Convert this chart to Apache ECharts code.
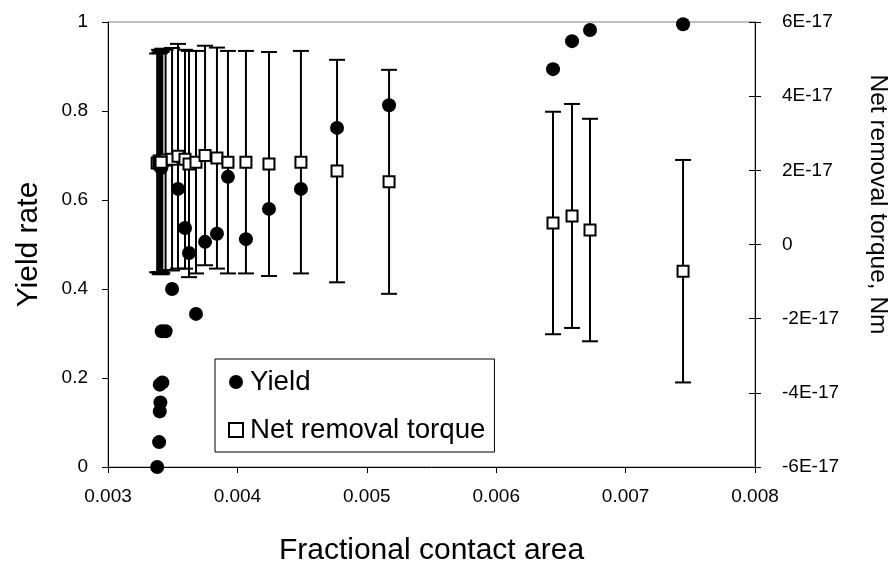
<!DOCTYPE html>
<html>
<head>
<meta charset="utf-8">
<script src="https://cdn.jsdelivr.net/npm/echarts@6/dist/echarts.min.js"></script>
<style>
  html, body { margin: 0; padding: 0; background: #fff; }
  #chart { width: 889px; height: 577px; }
</style>
</head>
<body>
<div id="chart"></div>
<script>
// Fractional contact area of each sample
const contactArea = [
  0.003380, 0.003395, 0.003400, 0.003405, 0.003400, 0.003420, 0.003415, 0.003445,
  0.003495, 0.003410, 0.003541, 0.003595, 0.003626, 0.003680, 0.003750, 0.003842,
  0.003927, 0.004066, 0.004244, 0.004491, 0.004770, 0.005172, 0.006439, 0.006586,
  0.006725, 0.007444
];
// Yield rate (left axis)
const yieldRate = [
  0.000, 0.056, 0.125, 0.145, 0.185, 0.190, 0.305, 0.305,
  0.400, 0.672, 0.625, 0.537, 0.481, 0.344, 0.506, 0.524,
  0.652, 0.512, 0.580, 0.625, 0.762, 0.813, 0.894, 0.957,
  0.982, 0.995
];
// Net removal torque, in units of 1E-17 Nm (right axis)
const netTorque = [
  2.20, 2.25, 2.18, 2.24, 2.22, 2.26, 2.20, 2.28,
  2.30, 2.22, 2.38, 2.30, 2.17, 2.22, 2.40, 2.33,
  2.22, 2.22, 2.17, 2.22, 1.98, 1.69, 0.58, 0.77,
  0.39, -0.72
];
// Standard deviation of the torque, same units
const torqueErr = [
  2.95, 3.00, 2.98, 3.00, 2.96, 3.02, 3.00, 2.97,
  3.00, 2.98, 3.03, 2.95, 3.05, 3.00, 2.96, 2.98,
  3.00, 3.00, 3.02, 3.00, 3.00, 3.02, 3.00, 3.02,
  3.00, 3.00
];
// Axis tick settings
const xTicks = { min: 0.003, max: 0.008, step: 0.001 };
const yieldTicks = { min: 0, max: 1, step: 0.2 };
const torqueTicks = { min: -6, max: 6, step: 2 };

const FONT = "'Liberation Sans', Arial, sans-serif";

const yieldData = contactArea.map((x, i) => [x, yieldRate[i]]);
const torqueData = contactArea.map((x, i) => [x, netTorque[i]]);
const errData = contactArea.map((x, i) => [x, netTorque[i] - torqueErr[i], netTorque[i] + torqueErr[i]]);

const torqueLabel = v => (v === 0 ? '0' : v + 'E-17');

const chart = echarts.init(document.getElementById('chart'), null, { renderer: 'canvas' });

chart.setOption({
  animation: false,
  backgroundColor: '#fff',
  textStyle: { fontFamily: FONT, color: '#000' },
  grid: {
    left: 108, right: 134, top: 22, bottom: 110,
    containLabel: false,
    outerBoundsMode: 'none',
    show: true, borderColor: '#808080', borderWidth: 1
  },
  legend: {
    orient: 'vertical',
    left: 215, top: 359,
    padding: [9, 9, 8, 13],
    itemGap: 20,
    itemWidth: 14, itemHeight: 14,
    borderColor: '#000', borderWidth: 1,
    backgroundColor: '#fff',
    textStyle: { fontFamily: FONT, fontSize: 27.7, color: '#000', padding: [0, 0, 0, 2] },
    data: [
      { name: 'Yield', icon: 'circle' },
      { name: 'Net removal torque', icon: 'rect' }
    ]
  },
  xAxis: {
    type: 'value',
    min: xTicks.min, max: xTicks.max, interval: xTicks.step,
    name: 'Fractional contact area',
    nameLocation: 'middle',
    nameGap: 69,
    nameTextStyle: { fontFamily: FONT, fontSize: 30, color: '#000' },
    axisLine: { onZero: false, lineStyle: { color: '#000', width: 1 } },
    axisTick: { inside: false, length: 6, lineStyle: { color: '#000' } },
    axisLabel: { fontFamily: FONT, fontSize: 19, color: '#000', margin: 20,
                 formatter: v => v.toFixed(3) },
    splitLine: { show: false }
  },
  yAxis: [
    {
      type: 'value', position: 'left',
      min: yieldTicks.min, max: yieldTicks.max, interval: yieldTicks.step,
      name: 'Yield rate',
      nameLocation: 'middle', nameRotate: 90, nameGap: 64,
      nameTextStyle: { fontFamily: FONT, fontSize: 30, color: '#000' },
      axisLine: { show: true, onZero: false, lineStyle: { color: '#000', width: 1 } },
      axisTick: { show: true, inside: false, length: 6, lineStyle: { color: '#000' } },
      axisLabel: { fontFamily: FONT, fontSize: 19, color: '#000', margin: 20 },
      splitLine: { show: false }
    },
    {
      type: 'value', position: 'right',
      min: torqueTicks.min, max: torqueTicks.max, interval: torqueTicks.step,
      name: 'Net removal torque, Nm',
      nameLocation: 'middle', nameRotate: -90, nameGap: 110,
      nameTextStyle: { fontFamily: FONT, fontSize: 24.5, color: '#000', padding: [0, 80, 0, 0] },
      axisLine: { show: true, onZero: false, lineStyle: { color: '#000', width: 1 } },
      axisTick: { show: true, inside: false, length: 6, lineStyle: { color: '#000' } },
      axisLabel: { fontFamily: FONT, fontSize: 19, color: '#000', margin: 27, formatter: torqueLabel },
      splitLine: { show: false }
    },
    {
      // inner half of the crossing ticks on the torque axis
      type: 'value', position: 'right',
      min: torqueTicks.min, max: torqueTicks.max, interval: torqueTicks.step,
      axisLine: { show: false },
      axisTick: { show: true, inside: true, length: 6, lineStyle: { color: '#000' } },
      axisLabel: { show: false },
      splitLine: { show: false }
    }
  ],
  series: [
    {
      name: 'Yield',
      type: 'scatter',
      xAxisIndex: 0, yAxisIndex: 0,
      symbol: 'circle', symbolSize: 14,
      itemStyle: { color: '#000', opacity: 1 },
      data: yieldData,
      z: 2
    },
    {
      name: 'Torque error',
      type: 'custom',
      xAxisIndex: 0, yAxisIndex: 1,
      encode: { x: 0, y: [1, 2] },
      renderItem: function (params, api) {
        const x = api.value(0);
        const lo = api.coord([x, api.value(1)]);
        const hi = api.coord([x, api.value(2)]);
        const half = 8;
        const st = { stroke: '#000', lineWidth: 2 };
        return {
          type: 'group',
          children: [
            { type: 'line', shape: { x1: hi[0], y1: hi[1], x2: lo[0], y2: lo[1] }, style: st },
            { type: 'line', shape: { x1: hi[0] - half, y1: hi[1], x2: hi[0] + half, y2: hi[1] }, style: st },
            { type: 'line', shape: { x1: lo[0] - half, y1: lo[1], x2: lo[0] + half, y2: lo[1] }, style: st }
          ]
        };
      },
      data: errData,
      z: 3
    },
    {
      name: 'Net removal torque',
      type: 'scatter',
      xAxisIndex: 0, yAxisIndex: 1,
      symbol: 'rect', symbolSize: 11,
      itemStyle: { color: '#fff', borderColor: '#000', borderWidth: 2, opacity: 1 },
      data: torqueData,
      z: 4
    }
  ]
});
</script>
</body>
</html>
